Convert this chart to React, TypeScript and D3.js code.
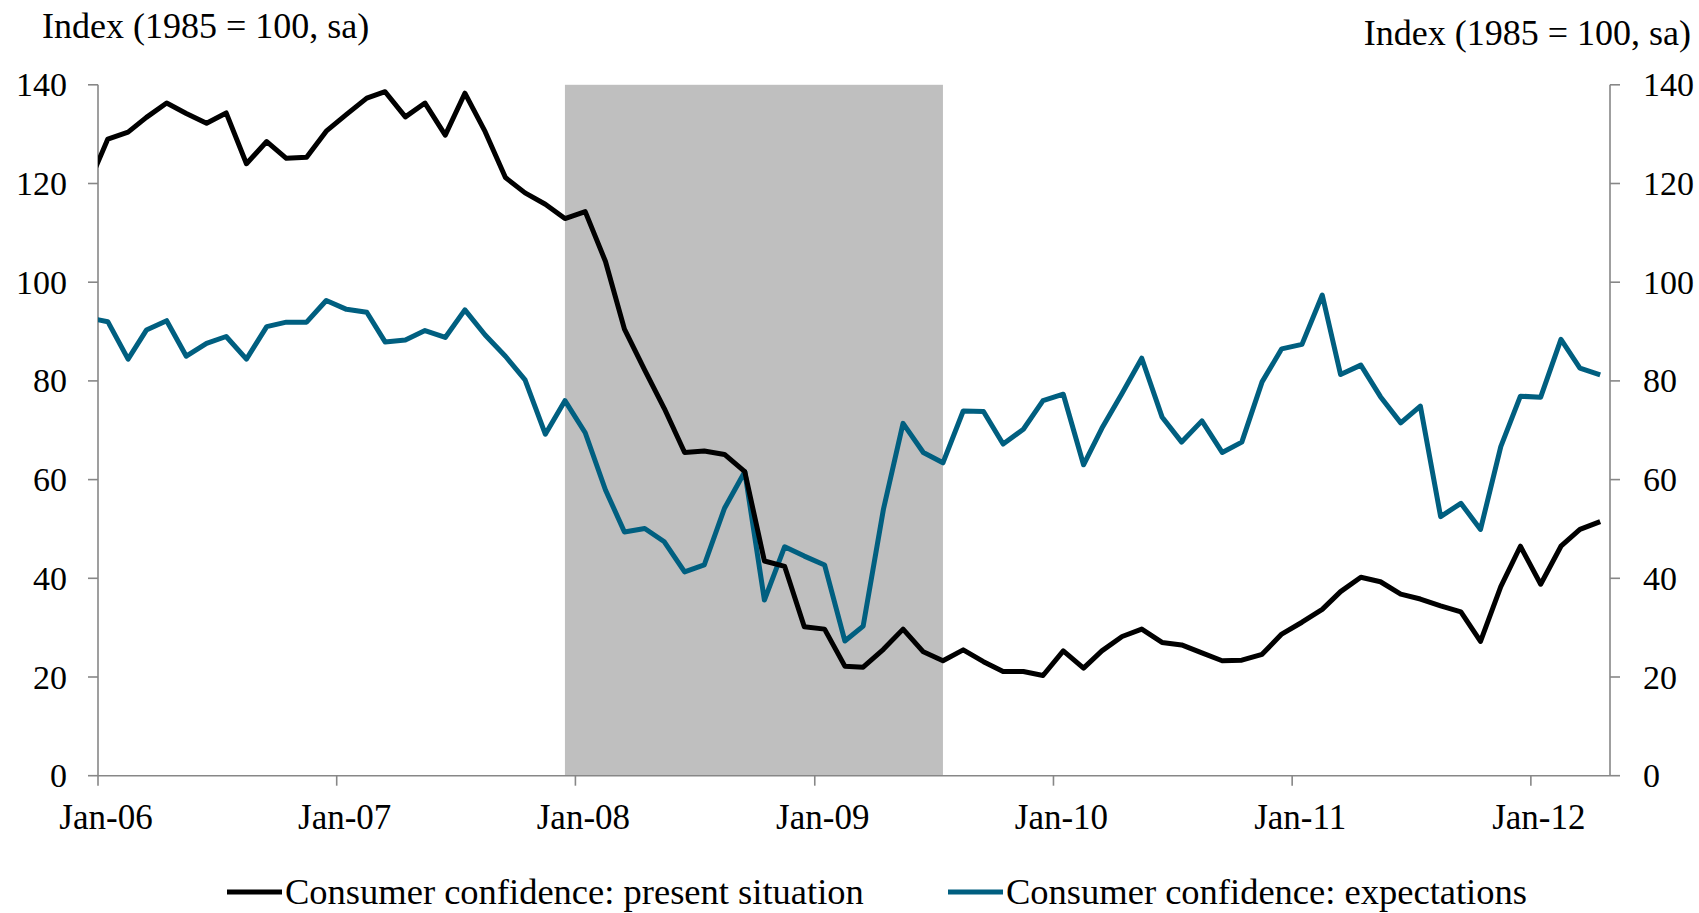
import { useEffect, useRef } from 'react'
import * as d3 from 'd3'

// Monthly series, Dec-05 .. Apr-12 (the Dec-05 point sits left of the axis and is clipped)
const FIRST_MONTH = new Date(2005, 11, 1)

const presentSituation = [
  119.4,
  129.0, 130.4, 133.4, 136.3, 134.2, 132.2, 134.3, 124.0, 128.5, 125.1, 125.3, 130.6,
  134.0, 137.3, 138.6, 133.5, 136.3, 129.8, 138.3, 130.5, 121.2, 118.1, 115.8, 112.9,
  114.3, 104.2, 90.5, 82.2, 74.4, 65.5, 65.8, 65.1, 61.6, 43.5, 42.4, 30.2,
  29.7, 22.2, 22.0, 25.6, 29.7, 25.1, 23.3, 25.5, 23.1, 21.1, 21.1, 20.3,
  25.3, 21.8, 25.3, 28.2, 29.7, 27.0, 26.5, 24.9, 23.3, 23.4, 24.6, 28.7,
  31.1, 33.7, 37.3, 40.2, 39.3, 36.8, 35.8, 34.4, 33.2, 27.2, 38.3, 46.5,
  38.8, 46.5, 49.9, 51.5,
]

const expectations = [
  92.8,
  92.0, 84.4, 90.3, 92.2, 85.0, 87.6, 89.0, 84.4, 91.0, 91.9, 91.9, 96.3,
  94.5, 93.9, 87.9, 88.3, 90.2, 88.8, 94.4, 89.3, 85.0, 80.2, 69.2, 76.0,
  69.5, 57.9, 49.4, 50.1, 47.4, 41.3, 42.7, 54.2, 61.6, 35.6, 46.4, 44.5,
  42.7, 27.3, 30.3, 54.0, 71.4, 65.5, 63.4, 73.9, 73.8, 67.2, 70.2, 76.0,
  77.3, 63.0, 70.4, 77.5, 84.6, 72.7, 67.6, 71.9, 65.5, 67.6, 79.8, 86.5,
  87.4, 97.4, 81.3, 83.2, 76.8, 71.5, 74.9, 52.5, 55.2, 49.9, 66.7, 76.9,
  76.7, 88.4, 82.6, 81.2,
]

const yTicks = [0, 20, 40, 60, 80, 100, 120, 140]
const xTickYears = [2006, 2007, 2008, 2009, 2010, 2011, 2012]
// NBER recession, Dec-07 .. Jun-09
const recessionFrom = new Date(2007, 11, 1)
const recessionTo = new Date(2009, 5, 1)

const SERIES = [
  { key: 'present', label: 'Consumer confidence: present situation', color: '#000000', values: presentSituation },
  { key: 'expect', label: 'Consumer confidence: expectations', color: '#005F80', values: expectations },
]

const W = 1699
const H = 913
const FONT = "'Liberation Serif', 'Times New Roman', serif"
const AXIS = '#878787'

const midMonth = (i: number) => d3.timeDay.offset(d3.timeMonth.offset(FIRST_MONTH, i), 15)

export default function App() {
  const svgRef = useRef<SVGSVGElement>(null)

  useEffect(() => {
    const svg = d3.select(svgRef.current)
    svg.selectAll('*').remove()

    const left = 98, right = 1610, top = 84.8, bottom = 775.7

    const x = d3.scaleTime()
      .domain([new Date(2006, 0, 1), new Date(2012, 4, 1)])
      .range([left, right])
    const y = d3.scaleLinear().domain([0, 140]).range([bottom, top])

    svg.append('defs').append('clipPath').attr('id', 'plot')
      .append('rect').attr('x', left).attr('y', top - 20)
      .attr('width', right - left).attr('height', bottom - top + 20)

    // recession shading
    const rx0 = x(d3.timeDay.offset(recessionFrom, 15))
    const rx1 = x(d3.timeDay.offset(d3.timeMonth.offset(recessionTo, 1), 15))
    svg.append('rect')
      .attr('x', rx0).attr('y', y(140))
      .attr('width', rx1 - rx0).attr('height', y(0) - y(140))
      .attr('fill', '#BFBFBF')

    // axes
    const ax = svg.append('g').attr('stroke', AXIS).attr('stroke-width', 1.6)
    ax.append('line').attr('x1', left).attr('x2', left).attr('y1', top).attr('y2', bottom)
    ax.append('line').attr('x1', right).attr('x2', right).attr('y1', top).attr('y2', bottom)
    ax.append('line').attr('x1', left).attr('x2', right).attr('y1', bottom).attr('y2', bottom)
    yTicks.forEach(t => {
      ax.append('line').attr('x1', left - 10).attr('x2', left).attr('y1', y(t)).attr('y2', y(t))
      ax.append('line').attr('x1', right).attr('x2', right + 10).attr('y1', y(t)).attr('y2', y(t))
    })
    xTickYears.forEach(yr => {
      const xx = x(new Date(yr, 0, 1))
      ax.append('line').attr('x1', xx).attr('x2', xx).attr('y1', bottom).attr('y2', bottom + 10)
    })

    const txt = svg.append('g').attr('font-family', FONT).attr('fill', '#000')
    yTicks.forEach(t => {
      txt.append('text').attr('x', left - 31).attr('y', y(t)).attr('dy', '0.34em')
        .attr('text-anchor', 'end').attr('font-size', 34).text(t)
      txt.append('text').attr('x', right + 33).attr('y', y(t)).attr('dy', '0.34em')
        .attr('text-anchor', 'start').attr('font-size', 34).text(t)
    })
    const fmt = d3.timeFormat('%b-%y')
    xTickYears.forEach(yr => {
      const d = new Date(yr, 0, 1)
      txt.append('text').attr('x', x(d) + 8).attr('y', 829)
        .attr('text-anchor', 'middle').attr('font-size', 35).text(fmt(d))
    })
    txt.append('text').attr('x', 42).attr('y', 38).attr('font-size', 36).text('Index (1985 = 100, sa)')
    txt.append('text').attr('x', 1691).attr('y', 45).attr('text-anchor', 'end')
      .attr('font-size', 36).text('Index (1985 = 100, sa)')

    // lines
    const line = d3.line<number>()
      .x((_, i) => x(midMonth(i)))
      .y(v => y(v))
    const lines = svg.append('g').attr('clip-path', 'url(#plot)')
    ;[...SERIES].reverse().forEach(s => {
      lines.append('path').datum(s.values)
        .attr('d', line)
        .attr('fill', 'none').attr('stroke', s.color).attr('stroke-width', 5)
        .attr('stroke-linejoin', 'round')
    })

    // legend
    const legX = [227, 948]
    SERIES.forEach((s, i) => {
      const g = svg.append('g').attr('transform', `translate(${legX[i]},892)`)
      g.append('line').attr('x1', 0).attr('x2', 55).attr('y1', 0).attr('y2', 0)
        .attr('stroke', s.color).attr('stroke-width', 5)
      g.append('text').attr('x', 58).attr('y', 0).attr('dy', '0.32em')
        .attr('font-family', FONT).attr('font-size', 36.5).text(s.label)
    })
  }, [])

  return (
    <div style={{ position: 'absolute', left: 0, top: 0, width: W, height: H, background: '#fff' }}>
      <svg ref={svgRef} width={W} height={H} style={{ display: 'block' }} />
    </div>
  )
}
